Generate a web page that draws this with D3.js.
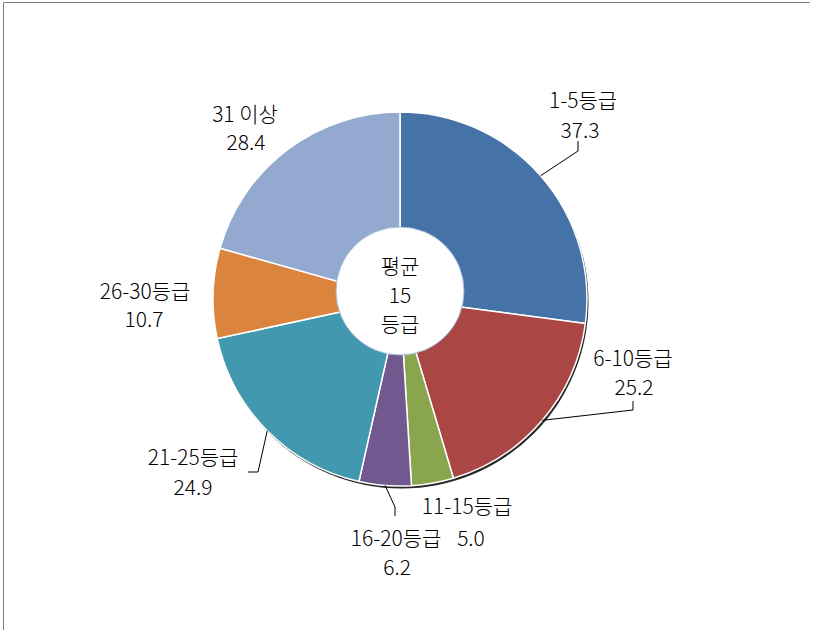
<!DOCTYPE html>
<html>
<head>
<meta charset="utf-8">
<script src="https://cdn.jsdelivr.net/npm/d3@7/dist/d3.min.js"></script>
<style>
  html, body { margin: 0; padding: 0; background: #fff; }
  svg { display: block; }
  text { font-family: "Noto Sans CJK KR", "Noto Sans", sans-serif; fill: #000; font-size: 21px; font-weight: 300; }
</style>
</head>
<body>
<svg id="chart" width="819" height="630"></svg>
<script>
// ---- data ----
const categories = ["1-5등급", "6-10등급", "11-15등급", "16-20등급", "21-25등급", "26-30등급", "31 이상"];
const values = [37.3, 25.2, 5.0, 6.2, 24.9, 10.7, 28.4];
const valueLabels = ["37.3", "25.2", "5.0", "6.2", "24.9", "10.7", "28.4"];
const colors = ["#4673A7", "#AA4643", "#89A54E", "#71588F", "#4198AF", "#DB843D", "#93A9CF"];
const centerLines = ["평균", "15", "등급"];

// ---- label layout (relative to pie centre) ----
const labelPos = [
  { name: [183, -191], value: [180, -161], elbow: [178, -148], tick: [178, -158] },
  { name: [233, 67],  value: [234, 96],   elbow: [233, 111], tick: [233, 102] },
  { name: [67, 215],  value: [71, 247],   elbow: null },
  { name: [-4, 247],  value: [-3, 276],   elbow: [-5, 208], tick: [-5, 217] },
  { name: [-207, 166], value: [-207, 196], elbow: [-142, 173], tick: [-152, 173] },
  { name: [-255, 0],  value: [-256, 28],  elbow: null },
  { name: [-155, -177], value: [-154, -149], elbow: null }
];

const svg = d3.select("#chart");
const cx = 400, cy = 299, R = 187;
const hole = { dx: 0, dy: -8, r: 64 };

// frame (top + left)
svg.append("path")
  .attr("d", "M3.5,630 L3.5,2.5 L810,2.5")
  .attr("fill", "none").attr("stroke", "#808080").attr("stroke-width", 1);

const g = svg.append("g").attr("transform", `translate(${cx},${cy})`);

const pie = d3.pie().value(d => d).sort(null);
const arcs = pie(values);
const arc = d3.arc().innerRadius(0).outerRadius(R);

// shadow
g.append("circle").attr("cx", 1.5).attr("cy", 2.5).attr("r", R)
  .attr("fill", "#111").attr("opacity", 0.9);

g.selectAll("path.slice").data(arcs).enter().append("path")
  .attr("class", "slice")
  .attr("d", arc)
  .attr("fill", (d, i) => colors[i])
  .attr("stroke", "#fff").attr("stroke-width", 1.5).attr("stroke-linejoin", "round");

// hole
g.append("circle").attr("cx", hole.dx).attr("cy", hole.dy).attr("r", hole.r)
  .attr("fill", "#fff").attr("stroke", "#a8bcdc").attr("stroke-width", 1);

// centre text
centerLines.forEach((t, i) => {
  g.append("text").attr("text-anchor", "middle")
    .attr("x", 0).attr("y", -25 + i * 29).text(t);
});

// leader lines
arcs.forEach((a, i) => {
  const lp = labelPos[i];
  if (!lp.elbow) return;
  const mid = (a.startAngle + a.endAngle) / 2;
  const sx = Math.sin(mid) * R, sy = -Math.cos(mid) * R;
  g.append("polyline")
    .attr("points", `${sx},${sy} ${lp.elbow[0]},${lp.elbow[1]} ${lp.tick[0]},${lp.tick[1]}`)
    .attr("fill", "none").attr("stroke", "#000").attr("stroke-width", 1);
});

// labels
categories.forEach((c, i) => {
  const lp = labelPos[i];
  g.append("text").attr("text-anchor", "middle")
    .attr("x", lp.name[0]).attr("y", lp.name[1]).text(c);
  g.append("text").attr("text-anchor", "middle")
    .attr("x", lp.value[0]).attr("y", lp.value[1]).text(valueLabels[i]);
});
</script>
</body>
</html>
